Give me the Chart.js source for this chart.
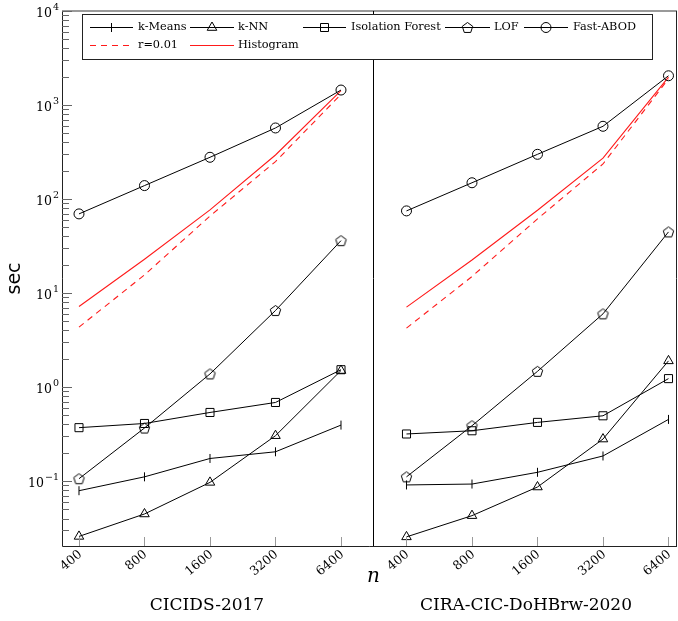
<!DOCTYPE html>
<html>
<head>
<meta charset="utf-8">
<script src="https://cdn.jsdelivr.net/npm/chart.js@4.4.1/dist/chart.umd.min.js"></script>
<style>
  body { margin: 0; background: #fff; }
  #wrap { width: 678px; height: 621px; }
</style>
</head>
<body>
<div id="wrap"><canvas id="myChart" width="678" height="621"></canvas></div>
<script>
'use strict';

// sample sizes n (x axis, log2 spaced)
let sizes = ['400', '800', '1600', '3200', '6400'];
let panelTitles = ['CICIDS-2017', 'CIRA-CIC-DoHBrw-2020'];
let yTickExps = [-1, 0, 1, 2, 3, 4];

// CICIDS-2017 (seconds)
let kMeansA = [0.079, 0.111, 0.174, 0.205, 0.394];
let knnA = [0.0258, 0.0447, 0.0969, 0.304, 1.50];
let iForestA = [0.37, 0.41, 0.537, 0.686, 1.53];
let lofA = [0.106, 0.367, 1.38, 6.52, 36.1];
let abodA = [69.5, 139, 278, 570, 1443];
let rA = [4.34, 15.6, 66, 250, 1300];
let histA = [7.19, 22.9, 76.6, 294, 1420];

// CIRA-CIC-DoHBrw-2020 (seconds)
let kMeansB = [0.091, 0.093, 0.124, 0.185, 0.453];
let knnB = [0.0255, 0.0429, 0.0865, 0.28, 1.90];
let iForestB = [0.317, 0.343, 0.421, 0.495, 1.23];
let lofB = [0.111, 0.388, 1.47, 6.01, 44.7];
let abodB = [74.8, 149, 299, 594, 2047];
let rB = [4.24, 15.0, 61.5, 236, 1900];
let histB = [7.08, 22.5, 76, 272, 1980];

let serif = 'DejaVu Serif';
let red = '#ff1a1a';
let chartEl = document.getElementById('myChart');
let ctx = chartEl.getContext('2d');

// both panels share one linear x axis: left panel at 0..4, right at 5..9
function makePoints(a, b) {
  let pts = [];
  for (let i = 0; i < a.length; i++) pts.push({ x: i, y: a[i] });
  pts.push({ x: 4.5, y: null });
  for (let i = 0; i < b.length; i++) pts.push({ x: i + 5, y: b[i] });
  return pts;
}

function pentagonImg(r) {
  let c = document.createElement('canvas');
  c.width = c.height = 2 * r + 4;
  let g = c.getContext('2d');
  drawPentagon(g, c.width / 2, c.height / 2 + 0.5, r);
  return c;
}

function drawPentagon(g, cx, cy, r) {
  g.save();
  g.strokeStyle = '#000';
  g.lineWidth = 1;
  g.beginPath();
  for (let i = 0; i < 5; i++) {
    let a = -Math.PI / 2 + i * 2 * Math.PI / 5;
    g.lineTo(cx + r * Math.cos(a), cy + r * Math.sin(a));
  }
  g.closePath();
  g.stroke();
  g.restore();
}

let pentagon = pentagonImg(5.5);

function blackSeries(label, a, b, style, radius, rot) {
  return {
    label: label,
    data: makePoints(a, b),
    borderColor: '#000',
    borderWidth: 1,
    pointStyle: style,
    pointRadius: radius,
    pointRotation: rot || 0,
    pointBorderColor: '#000',
    pointBorderWidth: 1,
    pointBackgroundColor: 'rgba(0,0,0,0)',
    tension: 0
  };
}

function redSeries(label, a, b, dash) {
  return {
    label: label,
    data: makePoints(a, b),
    borderColor: red,
    borderWidth: 1.1,
    borderDash: dash,
    pointRadius: 0,
    tension: 0
  };
}

// legend entries: [label, kind, x1, x2, textX, row]
let legendItems = [
  ['k-Means', 'bar', 90, 133, 138, 0],
  ['k-NN', 'triangle', 190, 234, 238, 0],
  ['Isolation Forest', 'rect', 303, 346, 351, 0],
  ['LOF', 'pentagon', 445, 490, 494, 0],
  ['Fast-ABOD', 'circle', 524, 568, 573, 0],
  ['r=0.01', 'dash', 90, 133, 138, 1],
  ['Histogram', 'red', 190, 234, 238, 1]
];

function drawMarker(g, kind, x, y) {
  g.save();
  g.strokeStyle = '#000';
  g.lineWidth = 1;
  g.beginPath();
  if (kind === 'bar') {
    g.moveTo(x, y - 4.5); g.lineTo(x, y + 4.5);
  } else if (kind === 'triangle') {
    g.moveTo(x, y - 5.5); g.lineTo(x + 4.8, y + 2.8); g.lineTo(x - 4.8, y + 2.8); g.closePath();
  } else if (kind === 'rect') {
    g.rect(x - 4, y - 4, 8, 8);
  } else if (kind === 'circle') {
    g.arc(x, y, 5, 0, Math.PI * 2);
  } else if (kind === 'pentagon') {
    g.restore();
    drawPentagon(g, x, y + 0.5, 5.5);
    return;
  }
  g.stroke();
  g.restore();
}

let decorPlugin = {
  id: 'decor',
  afterDraw(chart) {
    let g = chart.ctx;
    let xs = chart.scales.x;
    let ys = chart.scales.y;
    let area = chart.chartArea;
    let L = area.left, R = area.right, T = area.top, B = area.bottom;

    // frame
    g.save();
    g.strokeStyle = '#777';
    g.lineWidth = 1.5;
    g.beginPath(); g.moveTo(L, T); g.lineTo(R, T); g.stroke();
    g.strokeStyle = '#222';
    g.lineWidth = 1;
    g.beginPath();
    g.moveTo(L + 0.5, T); g.lineTo(L + 0.5, B + 0.5); g.lineTo(R, B + 0.5);
    g.moveTo(R - 0.5, T); g.lineTo(R - 0.5, B);
    g.stroke();

    // divider between the two panels
    let dx = Math.round(xs.getPixelForValue(4.49)) + 0.5;
    g.strokeStyle = '#000';
    g.beginPath(); g.moveTo(dx, T); g.lineTo(dx, B); g.stroke();

    // y ticks (inside)
    g.strokeStyle = '#666';
    for (let e = -2; e <= 4; e++) {
      for (let m = 1; m <= 9; m++) {
        let v = m * Math.pow(10, e);
        if (v < ys.min || v > ys.max) continue;
        let py = Math.round(ys.getPixelForValue(v)) + 0.5;
        let len = m === 1 ? 10 : 7;
        g.beginPath(); g.moveTo(L, py); g.lineTo(L + len, py); g.stroke();
      }
    }

    // x ticks (inside) and rotated labels
    g.fillStyle = '#000';
    g.font = '12.5px "' + serif + '"';
    for (let p = 0; p < 2; p++) {
      for (let i = 0; i < sizes.length; i++) {
        let px = Math.round(xs.getPixelForValue(i + p * 5)) + 0.5;
        g.strokeStyle = '#999';
        g.beginPath(); g.moveTo(px, B); g.lineTo(px, B - 9); g.stroke();
        g.save();
        g.translate(px + 1, B + 7);
        g.rotate(-40 * Math.PI / 180);
        g.textAlign = 'right';
        g.textBaseline = 'middle';
        g.fillText(sizes[i], 0, 0);
        g.restore();
      }
    }

    // y tick labels 10^k
    for (let k = 0; k < yTickExps.length; k++) {
      let e = yTickExps[k];
      let py = ys.getPixelForValue(Math.pow(10, e));
      let sup = e < 0 ? '\u2212' + Math.abs(e) : String(e);
      g.font = '9.5px "' + serif + '"';
      g.textAlign = 'right';
      g.textBaseline = 'alphabetic';
      let sw = g.measureText(sup).width;
      g.fillText(sup, 59, py - 1);
      g.font = '12.5px "' + serif + '"';
      g.fillText('10', 58 - sw, py + 6);
    }

    // axis titles
    g.font = '19px "DejaVu Sans"';
    g.textAlign = 'center';
    g.textBaseline = 'middle';
    g.save();
    g.translate(15, (T + B) / 2);
    g.rotate(-Math.PI / 2);
    g.fillText('sec', 0, 0);
    g.restore();
    g.font = 'italic 20px "' + serif + '"';
    g.fillText('n', dx, 577);

    // panel titles
    g.font = '17px "' + serif + '"';
    g.fillText(panelTitles[0], 207, 606);
    g.fillText(panelTitles[1], 526, 606);

    // legend box
    g.fillStyle = '#fff';
    g.fillRect(82, 14, 570, 45);
    g.strokeStyle = '#222';
    g.lineWidth = 1;
    g.strokeRect(82.5, 14.5, 570, 45);
    g.font = '11.3px "' + serif + '"';
    g.textAlign = 'left';
    g.textBaseline = 'middle';
    for (let j = 0; j < legendItems.length; j++) {
      let it = legendItems[j];
      let ly = it[5] === 0 ? 27.5 : 45.5;
      g.save();
      g.lineWidth = 1;
      if (it[1] === 'dash') { g.strokeStyle = red; g.setLineDash([6, 5]); }
      else if (it[1] === 'red') { g.strokeStyle = red; }
      else { g.strokeStyle = '#000'; }
      g.beginPath(); g.moveTo(it[2], ly); g.lineTo(it[3], ly); g.stroke();
      g.restore();
      if (it[1] !== 'dash' && it[1] !== 'red') drawMarker(g, it[1], (it[2] + it[3]) / 2, ly);
      g.fillStyle = '#000';
      g.fillText(it[0], it[4], ly);
    }
    g.restore();
  }
};

new Chart(ctx, {
  type: 'line',
  data: {
    datasets: [
      blackSeries('k-Means', kMeansA, kMeansB, 'line', 4.5, 90),
      blackSeries('k-NN', knnA, knnB, 'triangle', 5.5),
      blackSeries('Isolation Forest', iForestA, iForestB, 'rect', 5.7),
      blackSeries('LOF', lofA, lofB, pentagon, 5.5),
      blackSeries('Fast-ABOD', abodA, abodB, 'circle', 5),
      redSeries('r=0.01', rA, rB, [6, 5]),
      redSeries('Histogram', histA, histB, [])
    ]
  },
  options: {
    responsive: false,
    animation: false,
    devicePixelRatio: 1,
    layout: { autoPadding: false, padding: { left: 62, top: 11, right: 1, bottom: 75 } },
    plugins: { legend: { display: false }, tooltip: { enabled: false } },
    scales: {
      x: { type: 'linear', display: false, min: -0.2595, max: 9.13 },
      y: { type: 'logarithmic', display: false, min: 0.0204, max: 10000 }
    }
  },
  plugins: [decorPlugin]
});
</script>
</body>
</html>
